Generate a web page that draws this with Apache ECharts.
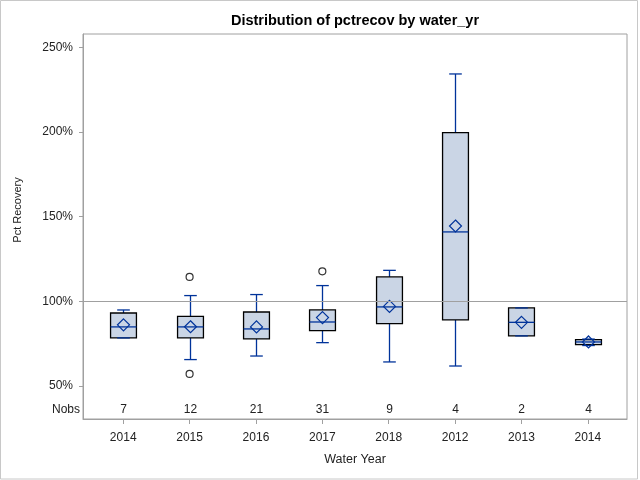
<!DOCTYPE html>
<html>
<head>
<meta charset="utf-8">
<script src="https://cdn.jsdelivr.net/npm/echarts@6/dist/echarts.min.js"></script>
<style>html,body{margin:0;padding:0;background:#fff}#c{width:640px;height:480px}</style>
</head>
<body>
<div id="c"></div>
<script>
const categories = ['2014','2015','2016','2017','2018','2012','2013','2014'];
const nobs = [7, 12, 21, 31, 9, 4, 2, 4];
const lowWhisker = [78.4, 65.6, 67.7, 75.6, 64.2, 61.8, 79.6, 73.9];
const q1 = [78.4, 78.4, 77.8, 82.7, 86.8, 89.0, 79.6, 74.4];
const median = [84.9, 84.9, 83.7, 87.8, 96.7, 141.0, 87.6, 76.0];
const q3 = [93.1, 91.1, 93.7, 94.9, 114.4, 199.6, 96.1, 77.4];
const highWhisker = [94.9, 103.4, 104.0, 109.3, 118.3, 234.3, 96.1, 77.7];
const means = [86.1, 85.0, 84.9, 90.4, 97.0, 144.5, 87.6, 76.0];
const outliers = [[1, 114.4], [1, 57.1], [3, 117.7]];
const yTicks = [50, 100, 150, 200, 250];
const refValue = 100;

const FONT = "'Liberation Sans', Arial, sans-serif";
const BLUE = '#00339a';
const FILL = '#cad5e5';

const boxData = categories.map((c, i) => [i, lowWhisker[i], q1[i], median[i], q3[i], highWhisker[i], means[i], nobs[i]]);

const chart = echarts.init(document.getElementById('c'), null, {renderer: 'canvas'});

function renderBox(params, api) {
  const i = api.value(0);
  const lo = api.coord([i, api.value(1)]);
  const p1 = api.coord([i, api.value(2)]);
  const md = api.coord([i, api.value(3)]);
  const p3 = api.coord([i, api.value(4)]);
  const hi = api.coord([i, api.value(5)]);
  const mn = api.coord([i, api.value(6)]);
  const band = api.size([1, 0])[0];
  const bw = band * 0.39, cw = band * 0.19;
  const x = Math.round(lo[0]) + 0.5;
  const cs = params.coordSys;
  const ls = {stroke: BLUE, lineWidth: 1.3};
  const d = 6;
  return {
    type: 'group',
    children: [
      {type: 'line', shape: {x1: x, y1: p3[1], x2: x, y2: hi[1]}, style: ls},
      {type: 'line', shape: {x1: x, y1: p1[1], x2: x, y2: lo[1]}, style: ls},
      {type: 'rect', shape: {x: x - bw / 2, y: p3[1], width: bw, height: p1[1] - p3[1]},
        style: {fill: FILL, stroke: '#000', lineWidth: 1.3}},
      {type: 'line', shape: {x1: x - cw / 2, y1: hi[1], x2: x + cw / 2, y2: hi[1]}, style: ls},
      {type: 'line', shape: {x1: x - cw / 2, y1: lo[1], x2: x + cw / 2, y2: lo[1]}, style: ls},
      {type: 'line', shape: {x1: x - bw / 2, y1: md[1], x2: x + bw / 2, y2: md[1]}, style: ls},
      {type: 'polygon', shape: {points: [[x, mn[1] - d], [x + d, mn[1]], [x, mn[1] + d], [x - d, mn[1]]]},
        style: {fill: 'none', stroke: BLUE, lineWidth: 1.2}},
      {type: 'text', x: x, y: cs.y + cs.height - 9,
        style: {text: String(api.value(7)), align: 'center', verticalAlign: 'middle',
          font: '12px ' + FONT, fill: '#222'}}
    ]
  };
}

chart.setOption({
  animation: false,
  backgroundColor: '#fff',
  title: {
    text: 'Distribution of pctrecov by water_yr',
    left: 355, top: 13, padding: 0, textAlign: 'center',
    textStyle: {fontFamily: FONT, fontSize: 14.5, fontWeight: 'bold', color: '#000'}
  },
  grid: {
    left: 83, right: 13, top: 34, bottom: 61,
    show: true, borderColor: '#a0a0a0', borderWidth: 1, backgroundColor: 'transparent'
  },
  xAxis: {
    type: 'value', min: -0.606, max: 7.590,
    name: 'Water Year', nameLocation: 'middle', nameGap: 34,
    nameTextStyle: {fontFamily: FONT, fontSize: 12.5, color: '#222'},
    axisLine: {show: true, onZero: false, lineStyle: {color: '#a0a0a0'}},
    splitLine: {show: false},
    axisTick: {show: true, length: 5, customValues: categories.map((c, i) => i), lineStyle: {color: '#a0a0a0'}},
    axisLabel: {
      customValues: categories.map((c, i) => i), margin: 13,
      formatter: v => categories[Math.round(v)],
      fontFamily: FONT, fontSize: 12, color: '#222'
    }
  },
  yAxis: {
    type: 'value', min: 30.5, max: 257.9,
    axisLine: {show: true, onZero: false, lineStyle: {color: '#a0a0a0'}},
    splitLine: {show: false},
    axisTick: {show: true, length: 4, customValues: yTicks, lineStyle: {color: '#a0a0a0'}},
    axisLabel: {
      customValues: yTicks, margin: 10,
      formatter: v => v + '%',
      fontFamily: FONT, fontSize: 12, color: '#222'
    }
  },
  graphic: [
    {type: 'rect', shape: {x: 0.5, y: 0.5, width: 637, height: 478.5}, style: {fill: 'none', stroke: '#c8c8c8', lineWidth: 1}, silent: true, z: -1},
    {type: 'text', x: 18, y: 210, rotation: Math.PI / 2,
      style: {text: 'Pct Recovery', align: 'center', verticalAlign: 'middle', font: '11px ' + FONT, fill: '#222'}},
    {type: 'text', x: 80, y: 410,
      style: {text: 'Nobs', align: 'right', verticalAlign: 'middle', font: '12px ' + FONT, fill: '#222'}}
  ],
  series: [
    {
      type: 'scatter', z: 1, data: [], symbolSize: 0,
      markLine: {
        silent: true, symbol: 'none', label: {show: false},
        lineStyle: {color: '#a0a0a0', width: 1, type: 'solid'},
        data: [{yAxis: refValue}]
      }
    },
    {
      type: 'custom', z: 3, renderItem: renderBox, data: boxData,
      encode: {x: 0, y: [1, 2, 3, 4, 5, 6]}
    },
    {
      type: 'scatter', z: 4, data: outliers, symbol: 'circle', symbolSize: 7,
      itemStyle: {color: 'none', borderColor: '#000', borderWidth: 1.2}
    }
  ]
});
</script>
</body>
</html>
